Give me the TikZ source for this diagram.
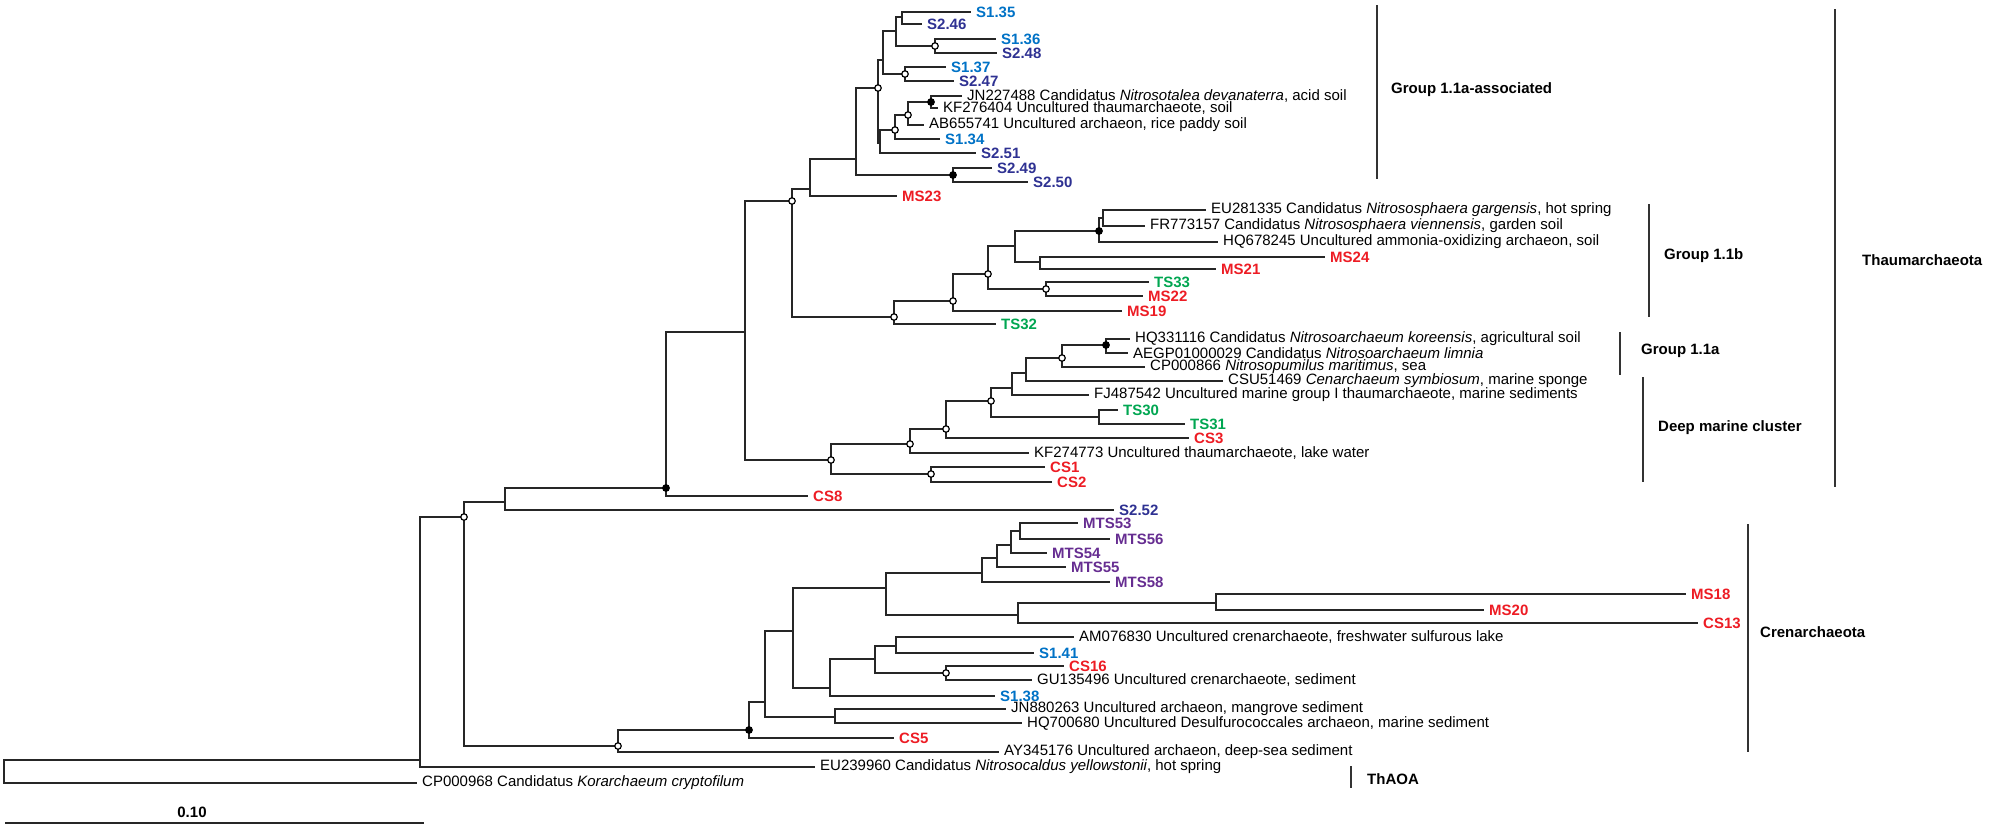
\documentclass[tikz,border=0pt]{standalone}
\usepackage{fontspec}
\setmainfont{Liberation Sans}
\definecolor{sone}{RGB}{0,114,198}
\definecolor{stwo}{RGB}{46,49,146}
\definecolor{mts}{RGB}{102,45,145}
\definecolor{cred}{RGB}{237,28,36}
\definecolor{cgreen}{RGB}{0,166,81}

\begin{document}
\begin{tikzpicture}[x=1pt, y=-1pt,
    br/.style={line width=2pt, draw=black!85},
    bar/.style={line width=2pt, draw=black!80},
    lf/.style={anchor=west, inner xsep=5pt, inner ysep=0pt, font=\fontsize{15}{17}\selectfont},
    tag/.style={lf, font=\fontsize{15}{17}\selectfont\bfseries},
    grp/.style={anchor=west, inner sep=0pt, font=\fontsize{15}{17}\selectfont\bfseries},
    bsopen/.style={circle, draw=black, line width=1.2pt, fill=white, inner sep=0pt, minimum size=6.5pt},
    bsfill/.style={bsopen, fill=black},
  ]
  \useasboundingbox (0,0) rectangle (2000,830);

  % leaves: Group 1.1a-associated
  \node[tag, text=sone] (s135) at (971,12) {S1.35};
  \node[tag, text=stwo] (s246) at (922,24) {S2.46};
  \node[tag, text=sone] (s136) at (996,39) {S1.36};
  \node[tag, text=stwo] (s248) at (997,53) {S2.48};
  \node[tag, text=sone] (s137) at (946,67) {S1.37};
  \node[tag, text=stwo] (s247) at (954,81) {S2.47};
  \node[lf] (jn227488) at (962,96) {JN227488 Candidatus \textit{Nitrosotalea devanaterra}, acid soil};
  \node[lf] (kf276404) at (938,108) {KF276404 Uncultured thaumarchaeote, soil};
  \node[lf] (ab655741) at (924,125) {AB655741 Uncultured archaeon, rice paddy soil};
  \node[tag, text=sone] (s134) at (940,139) {S1.34};
  \node[tag, text=stwo] (s251) at (976,153) {S2.51};
  \node[tag, text=stwo] (s249) at (992,168) {S2.49};
  \node[tag, text=stwo] (s250) at (1028,182) {S2.50};
  \node[tag, text=cred] (ms23) at (897,196) {MS23};

  % leaves: Group 1.1b
  \node[lf] (eu281335) at (1206,210) {EU281335 Candidatus \textit{Nitrososphaera gargensis}, hot spring};
  \node[lf] (fr773157) at (1145,226) {FR773157 Candidatus \textit{Nitrososphaera viennensis}, garden soil};
  \node[lf] (hq678245) at (1218,242) {HQ678245 Uncultured ammonia-oxidizing archaeon, soil};
  \node[tag, text=cred] (ms24) at (1325,257) {MS24};
  \node[tag, text=cred] (ms21) at (1216,269) {MS21};
  \node[tag, text=cgreen] (ts33) at (1149,282) {TS33};
  \node[tag, text=cred] (ms22) at (1143,296) {MS22};
  \node[tag, text=cred] (ms19) at (1122,311) {MS19};
  \node[tag, text=cgreen] (ts32) at (996,324) {TS32};

  % leaves: Group 1.1a and deep marine cluster
  \node[lf] (hq331116) at (1130,339) {HQ331116 Candidatus \textit{Nitrosoarchaeum koreensis}, agricultural soil};
  \node[lf] (aegp) at (1128,353) {AEGP01000029 Candidatus \textit{Nitrosoarchaeum limnia}};
  \node[lf] (cp000866) at (1145,367) {CP000866 \textit{Nitrosopumilus maritimus}, sea};
  \node[lf] (csu51469) at (1223,381) {CSU51469 \textit{Cenarchaeum symbiosum}, marine sponge};
  \node[lf] (fj487542) at (1089,395) {FJ487542 Uncultured marine group I thaumarchaeote, marine sediments};
  \node[tag, text=cgreen] (ts30) at (1118,410) {TS30};
  \node[tag, text=cgreen] (ts31) at (1185,424) {TS31};
  \node[tag, text=cred] (cs3) at (1189,438) {CS3};
  \node[lf] (kf274773) at (1029,453) {KF274773 Uncultured thaumarchaeote, lake water};
  \node[tag, text=cred] (cs1) at (1045,467) {CS1};
  \node[tag, text=cred] (cs2) at (1052,482) {CS2};
  \node[tag, text=cred] (cs8) at (808,496) {CS8};
  \node[tag, text=stwo] (s252) at (1114,510) {S2.52};

  % leaves: Crenarchaeota and outgroups
  \node[tag, text=mts] (mts53) at (1078,523) {MTS53};
  \node[tag, text=mts] (mts56) at (1110,539) {MTS56};
  \node[tag, text=mts] (mts54) at (1047,553) {MTS54};
  \node[tag, text=mts] (mts55) at (1066,567) {MTS55};
  \node[tag, text=mts] (mts58) at (1110,582) {MTS58};
  \node[tag, text=cred] (ms18) at (1686,594) {MS18};
  \node[tag, text=cred] (ms20) at (1484,610) {MS20};
  \node[tag, text=cred] (cs13) at (1698,623) {CS13};
  \node[lf] (am076830) at (1074,637) {AM076830 Uncultured crenarchaeote, freshwater sulfurous lake};
  \node[tag, text=sone] (s141) at (1034,653) {S1.41};
  \node[tag, text=cred] (cs16) at (1064,666) {CS16};
  \node[lf] (gu135496) at (1032,680) {GU135496 Uncultured crenarchaeote, sediment};
  \node[tag, text=sone] (s138) at (995,696) {S1.38};
  \node[lf] (jn880263) at (1006,709) {JN880263 Uncultured archaeon, mangrove sediment};
  \node[lf] (hq700680) at (1022,723) {HQ700680 Uncultured Desulfurococcales archaeon, marine sediment};
  \node[tag, text=cred] (cs5) at (894,738) {CS5};
  \node[lf] (ay345176) at (999,752) {AY345176 Uncultured archaeon, deep-sea sediment};
  \node[lf] (eu239960) at (815,767) {EU239960 Candidatus \textit{Nitrosocaldus yellowstonii}, hot spring};
  \node[lf] (cp000968) at (417,783) {CP000968 Candidatus \textit{Korarchaeum cryptofilum}};

  % inner nodes
  \coordinate (root) at (4,771);
  \coordinate (n1) at (420,760);
  \coordinate (n2) at (464,517);
  \coordinate (g1) at (505,502);
  \coordinate (f1) at (666,488);
  \coordinate (d1) at (745,332);
  \coordinate (c1) at (792,201);
  \coordinate (a14) at (810,189);
  \coordinate (a12) at (856,159);
  \coordinate (a6) at (878,88);
  \coordinate (a4) at (883,60);
  \coordinate (a2) at (896,31);
  \coordinate (a1) at (902,17);
  \coordinate (a3) at (935,46);
  \coordinate (a5) at (905,74);
  \coordinate (a11) at (880,143);
  \coordinate (a8) at (895,130);
  \coordinate (a9) at (908,115);
  \coordinate (a10) at (931,102);
  \coordinate (a13) at (953,175);
  \coordinate (b0) at (894,317);
  \coordinate (b1) at (953,301);
  \coordinate (b2) at (988,274);
  \coordinate (b3) at (1015,246);
  \coordinate (b5) at (1099,231);
  \coordinate (b7) at (1103,218);
  \coordinate (b6) at (1040,262);
  \coordinate (b4) at (1046,289);
  \coordinate (e1) at (831,460);
  \coordinate (e2) at (910,444);
  \coordinate (e4) at (946,429);
  \coordinate (e5) at (991,401);
  \coordinate (e6) at (1012,388);
  \coordinate (e8) at (1026,373);
  \coordinate (e9) at (1062,358);
  \coordinate (e10) at (1106,345);
  \coordinate (e7) at (1099,417);
  \coordinate (e3) at (931,474);
  \coordinate (i1) at (618,746);
  \coordinate (j1) at (749,730);
  \coordinate (k1) at (765,702);
  \coordinate (m1) at (793,631);
  \coordinate (nc) at (886,588);
  \coordinate (u1) at (982,573);
  \coordinate (u2) at (997,558);
  \coordinate (u3) at (1011,545);
  \coordinate (u4) at (1020,531);
  \coordinate (s1) at (1018,615);
  \coordinate (t1) at (1216,603);
  \coordinate (o1) at (830,688);
  \coordinate (p1) at (875,659);
  \coordinate (q1) at (896,646);
  \coordinate (r1) at (946,673);
  \coordinate (l1) at (835,717);

  % branches
  \draw[br] (root) |- (n1) (root) |- (cp000968.west);
  \draw[br] (n1) |- (n2) (n1) |- (eu239960.west);
  \draw[br] (n2) |- (g1) (n2) |- (i1);
  \draw[br] (g1) |- (f1) (g1) |- (s252.west);
  \draw[br] (f1) |- (d1) (f1) |- (cs8.west);
  \draw[br] (d1) |- (c1) (d1) |- (e1);
  \draw[br] (c1) |- (a14) (c1) |- (b0);
  \draw[br] (a14) |- (a12) (a14) |- (ms23.west);
  \draw[br] (a12) |- (a6) (a12) |- (a13);
  \draw[br] (a6) |- (a4) (a6) |- (a11);
  \draw[br] (a4) |- (a2) (a4) |- (a5);
  \draw[br] (a2) |- (a1) (a2) |- (a3);
  \draw[br] (a1) |- (s135.west) (a1) |- (s246.west);
  \draw[br] (a3) |- (s136.west) (a3) |- (s248.west);
  \draw[br] (a5) |- (s137.west) (a5) |- (s247.west);
  \draw[br] (a11) |- (a8) (a11) |- (s251.west);
  \draw[br] (a8) |- (a9) (a8) |- (s134.west);
  \draw[br] (a9) |- (a10) (a9) |- (ab655741.west);
  \draw[br] (a10) |- (jn227488.west) (a10) |- (kf276404.west);
  \draw[br] (a13) |- (s249.west) (a13) |- (s250.west);
  \draw[br] (b0) |- (b1) (b0) |- (ts32.west);
  \draw[br] (b1) |- (b2) (b1) |- (ms19.west);
  \draw[br] (b2) |- (b3) (b2) |- (b4);
  \draw[br] (b3) |- (b5) (b3) |- (b6);
  \draw[br] (b5) |- (b7) (b5) |- (hq678245.west);
  \draw[br] (b7) |- (eu281335.west) (b7) |- (fr773157.west);
  \draw[br] (b6) |- (ms24.west) (b6) |- (ms21.west);
  \draw[br] (b4) |- (ts33.west) (b4) |- (ms22.west);
  \draw[br] (e1) |- (e2) (e1) |- (e3);
  \draw[br] (e2) |- (e4) (e2) |- (kf274773.west);
  \draw[br] (e4) |- (e5) (e4) |- (cs3.west);
  \draw[br] (e5) |- (e6) (e5) |- (e7);
  \draw[br] (e6) |- (e8) (e6) |- (fj487542.west);
  \draw[br] (e8) |- (e9) (e8) |- (csu51469.west);
  \draw[br] (e9) |- (e10) (e9) |- (cp000866.west);
  \draw[br] (e10) |- (hq331116.west) (e10) |- (aegp.west);
  \draw[br] (e7) |- (ts30.west) (e7) |- (ts31.west);
  \draw[br] (e3) |- (cs1.west) (e3) |- (cs2.west);
  \draw[br] (i1) |- (j1) (i1) |- (ay345176.west);
  \draw[br] (j1) |- (k1) (j1) |- (cs5.west);
  \draw[br] (k1) |- (m1) (k1) |- (l1);
  \draw[br] (m1) |- (nc) (m1) |- (o1);
  \draw[br] (nc) |- (u1) (nc) |- (s1);
  \draw[br] (u1) |- (u2) (u1) |- (mts58.west);
  \draw[br] (u2) |- (u3) (u2) |- (mts55.west);
  \draw[br] (u3) |- (u4) (u3) |- (mts54.west);
  \draw[br] (u4) |- (mts53.west) (u4) |- (mts56.west);
  \draw[br] (s1) |- (t1) (s1) |- (cs13.west);
  \draw[br] (t1) |- (ms18.west) (t1) |- (ms20.west);
  \draw[br] (o1) |- (p1) (o1) |- (s138.west);
  \draw[br] (p1) |- (q1) (p1) |- (r1);
  \draw[br] (q1) |- (am076830.west) (q1) |- (s141.west);
  \draw[br] (r1) |- (cs16.west) (r1) |- (gu135496.west);
  \draw[br] (l1) |- (jn880263.west) (l1) |- (hq700680.west);

  % support marks
  \node[bsopen] (a3m) at (a3) {};
  \node[bsopen] (a5m) at (a5) {};
  \node[bsopen] (a6m) at (a6) {};
  \node[bsopen] (a8m) at (a8) {};
  \node[bsopen] (a9m) at (a9) {};
  \node[bsfill] (a10m) at (a10) {};
  \node[bsfill] (a13m) at (a13) {};
  \node[bsopen] (c1m) at (c1) {};
  \node[bsopen] (b0m) at (b0) {};
  \node[bsopen] (b1m) at (b1) {};
  \node[bsopen] (b2m) at (b2) {};
  \node[bsopen] (b4m) at (b4) {};
  \node[bsfill] (b5m) at (b5) {};
  \node[bsopen] (e1m) at (e1) {};
  \node[bsopen] (e2m) at (e2) {};
  \node[bsopen] (e3m) at (e3) {};
  \node[bsopen] (e4m) at (e4) {};
  \node[bsopen] (e5m) at (e5) {};
  \node[bsopen] (e9m) at (e9) {};
  \node[bsfill] (e10m) at (e10) {};
  \node[bsfill] (f1m) at (f1) {};
  \node[bsopen] (n2m) at (n2) {};
  \node[bsopen] (i1m) at (i1) {};
  \node[bsfill] (j1m) at (j1) {};
  \node[bsopen] (r1m) at (r1) {};

  % groups
  \draw[bar] (1377,5) -- (1377,179);
  \node[grp] (g11aa) at (1391,90) {Group 1.1a-associated};
  \draw[bar] (1649,204) -- (1649,317);
  \node[grp] (g11b) at (1664,256) {Group 1.1b};
  \draw[bar] (1620,332) -- (1620,375);
  \node[grp] (g11a) at (1641,351) {Group 1.1a};
  \draw[bar] (1643,377) -- (1643,482);
  \node[grp] (dmc) at (1658,428) {Deep marine cluster};
  \draw[bar] (1835,9) -- (1835,487);
  \node[grp] (thaum) at (1862,260) {Thaumarchaeota};
  \draw[bar] (1748,524) -- (1748,752);
  \node[grp] (cren) at (1760,632) {Crenarchaeota};
  \draw[bar] (1351,766) -- (1351,788);
  \node[grp] (thaoa) at (1367,779) {ThAOA};

  % scale
  \draw[br] (5,823) -- (424,823);
  \node[font=\fontsize{15}{17}\selectfont\bfseries] (scale) at (192,812) {0.10};
\end{tikzpicture}
\end{document}
